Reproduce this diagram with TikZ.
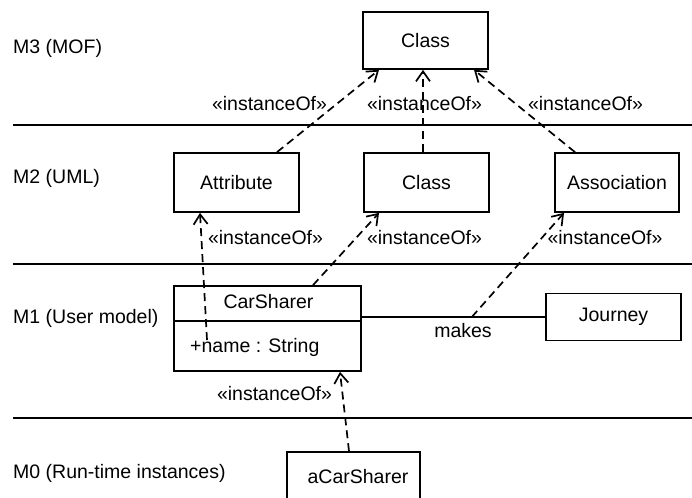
\documentclass[tikz,border=0pt]{standalone}
\usepackage{fontspec}
\setmainfont{Liberation Sans}
\usetikzlibrary{arrows.meta}

\tikzset{
  txt/.style={font=\fontsize{19.5}{23}\selectfont, inner sep=0pt},
  box/.style={draw, line width=1.7pt, txt, inner sep=0pt},
  layerline/.style={line width=1.7pt},
  instof/.style={line width=1.7pt, dash pattern=on 8pt off 5pt,
    -{Straight Barb[length=10pt,width=14pt,line width=1.7pt]}},
  assocline/.style={line width=1.7pt},
}

\begin{document}
\begin{tikzpicture}[x=1pt,y=-1pt]
  \useasboundingbox (0,0) rectangle (692,497);

  % layer separators
  \coordinate (s1a) at (13,125);  \coordinate (s1b) at (692,125);
  \coordinate (s2a) at (13,264);  \coordinate (s2b) at (692,264);
  \coordinate (s3a) at (13,418);  \coordinate (s3b) at (692,418);
  \draw[layerline] (s1a) -- (s1b);
  \draw[layerline] (s2a) -- (s2b);
  \draw[layerline] (s3a) -- (s3b);

  % layer names
  \node[txt, anchor=west] (lm3) at (13,48)  {M3 (MOF)};
  \node[txt, anchor=west] (lm2) at (13,178) {M2 (UML)};
  \node[txt, anchor=west] (lm1) at (13,318) {M1 (User model)};
  \node[txt, anchor=west] (lm0) at (13,473) {M0 (Run-time instances)};

  % M3
  \node[box, minimum width=125pt, minimum height=57pt] (c3) at (425.5,40.5) {Class};

  % M2
  \node[box, minimum width=125pt, minimum height=59pt] (attr)  at (236.5,182.5) {Attribute};
  \node[box, minimum width=125pt, minimum height=59pt] (c2)    at (426.5,182.5) {Class};
  \node[box, minimum width=124pt, minimum height=59pt] (assoc) at (617,182.5)   {Association};

  % M1
  \node[draw, line width=1.7pt, minimum width=187pt, minimum height=85pt] (cs) at (267.5,328.5) {};
  \draw[line width=1.7pt] ([yshift=7.5pt]cs.west) -- ([yshift=7.5pt]cs.east);
  \node[txt] (csname) at (268.5,302) {CarSharer};
  \node[txt, anchor=west] (csattr) at (190,347) {+name : String};
  \coordinate (nameref) at (207,340);

  \node[box, minimum width=135pt, minimum height=47pt] (jo) at (613.5,317) {Journey};
  \draw[assocline] (cs.east |- jo.west) -- coordinate[pos=0.6] (mk) (jo.west);
  \node[txt] (makes) at (463,331) {makes};

  % M0
  \node[draw, line width=1.7pt, minimum width=133pt, minimum height=54pt] (acs) at (353.5,479) {};
  \node[txt] (acsname) at (358,477) {aCarSharer};

  % instanceOf dependencies M2 -> M3
  \draw[instof] ([xshift=40.5pt]attr.north) -- ([xshift=-46.5pt]c3.south);
  \draw[instof] ([xshift=-3.5pt]c2.north)   -- ([xshift=-2.5pt]c3.south);
  \draw[instof] ([xshift=-42pt]assoc.north) -- ([xshift=48.5pt]c3.south);
  \node[txt] (i31) at (269.5,104) {«instanceOf»};
  \node[txt] (i32) at (424.5,104) {«instanceOf»};
  \node[txt] (i33) at (585.5,104) {«instanceOf»};

  % instanceOf dependencies M1 -> M2
  \draw[instof] (nameref) -- ([xshift=-36.5pt]attr.south);
  \draw[instof] ([xshift=45.5pt]cs.north) -- ([xshift=-47.5pt]c2.south);
  \draw[instof] (mk) -- ([xshift=-53pt]assoc.south);
  \node[txt] (i21) at (265.5,238) {«instanceOf»};
  \node[txt] (i22) at (424.5,238) {«instanceOf»};
  \node[txt] (i23) at (605,238)   {«instanceOf»};

  % instanceOf dependency M0 -> M1
  \draw[instof] ([xshift=-4.5pt]acs.north) -- ([xshift=72.5pt]cs.south);
  \node[txt] (i10) at (274.5,394) {«instanceOf»};
\end{tikzpicture}
\end{document}
